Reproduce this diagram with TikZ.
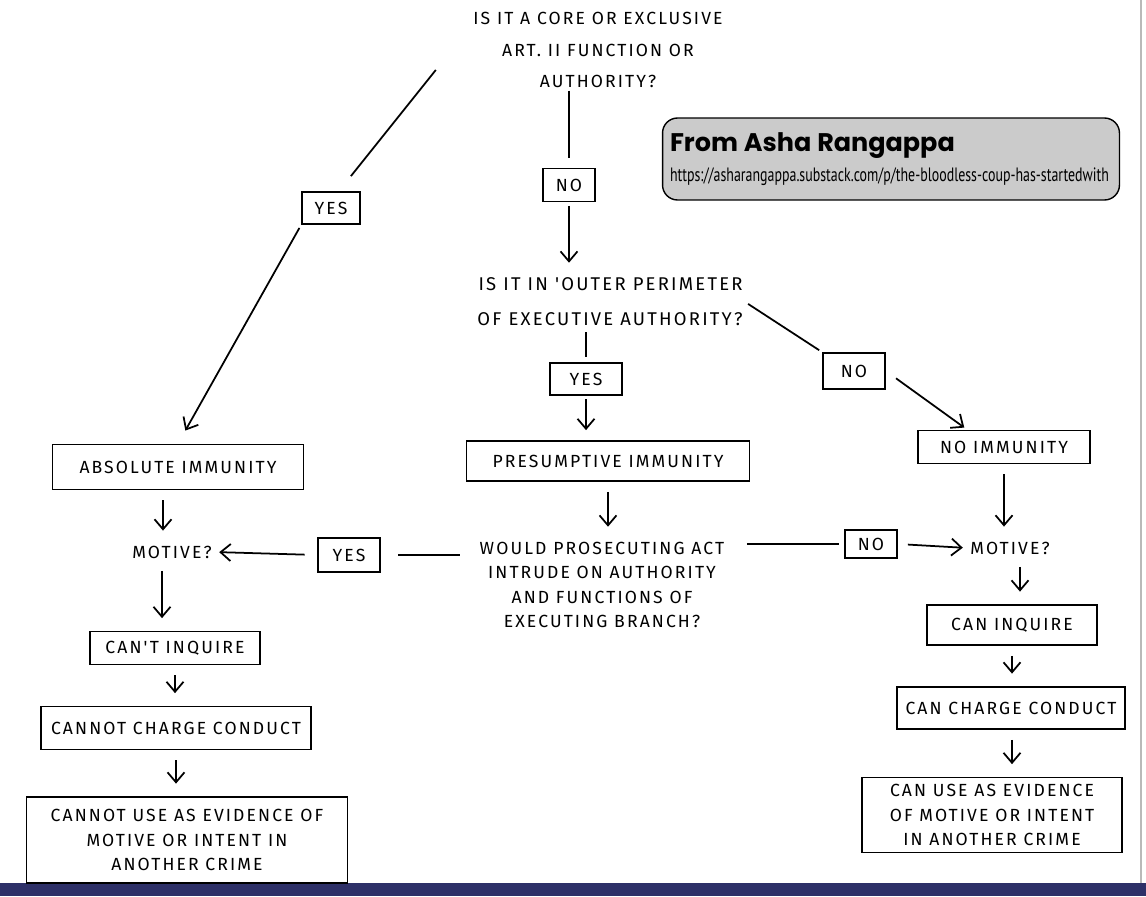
\documentclass[tikz,border=0pt]{standalone}
\usepackage{fontspec}
\usetikzlibrary{arrows.meta}
\newfontfamily\hand[LetterSpace=12]{Fira Sans}
\newfontfamily\titlefont{Poppins}
\newfontfamily\urlfont[FakeStretch=0.72]{PT Sans}
\definecolor{notegray}{HTML}{CBCBCB}
\definecolor{stripblue}{HTML}{2E3068}

\begin{document}
\begin{tikzpicture}[x=0.02cm,y=-0.02cm,line width=1pt,>={Straight Barb[length=2mm,width=3.4mm]},
  txt/.style={font=\hand\fontsize{10}{14}\selectfont,align=center,inner sep=1pt},
  box/.style={txt,draw,inner sep=3pt},
  dn/.style={->,shorten <=0.2cm,shorten >=0.25cm}]
  \useasboundingbox (0,0) rectangle (1146,896);
  % papel
  \fill[stripblue] (0,883) rectangle (1146,896);
  \draw[gray!55,line width=0.8pt] (1141,0) -- (1141,883);
  % preguntas
  \node[txt,font=\hand\fontsize{10}{18}\selectfont] (q1) at (598,50) {IS IT A CORE OR EXCLUSIVE\\ART. II FUNCTION OR\\AUTHORITY?};
  \node[txt,align=right,font=\hand\fontsize{10.5}{20}\selectfont] (q2) at (610,302) {IS IT IN 'OUTER PERIMETER\\OF EXECUTIVE AUTHORITY?};
  \node[txt] (q3) at (602,585) {WOULD PROSECUTING ACT\\INTRUDE ON AUTHORITY\\AND FUNCTIONS OF\\EXECUTING BRANCH?};
  % respuestas
  \node[box,minimum width=1.04cm,minimum height=0.66cm] (no1) at (569,185) {NO};
  \node[box,minimum width=1.16cm,minimum height=0.64cm] (yes1) at (331,208) {YES};
  \node[box,minimum width=1.44cm,minimum height=0.64cm] (yes2) at (586,379) {YES};
  \node[box,minimum width=1.24cm,minimum height=0.72cm] (no2) at (854,371) {NO};
  \node[box,minimum width=1.24cm,minimum height=0.68cm] (yes3) at (349,555) {YES};
  \node[box,minimum width=1.04cm,minimum height=0.56cm] (no3) at (871,544) {NO};
  % resultados
  \node[box,minimum width=5.02cm,minimum height=0.9cm] (absimm) at (178,467) {ABSOLUTE IMMUNITY};
  \node[box,minimum width=5.66cm,minimum height=0.8cm] (presimm) at (608,461) {PRESUMPTIVE IMMUNITY};
  \node[box,minimum width=3.44cm,minimum height=0.66cm] (noimm) at (1004,447) {NO IMMUNITY};
  \node[txt] (motL) at (172,552) {MOTIVE?};
  \node[txt] (motR) at (1010,548) {MOTIVE?};
  \node[box,minimum width=3.4cm,minimum height=0.66cm] (cantinq) at (175,648) {CAN'T INQUIRE};
  \node[box,minimum width=5.4cm,minimum height=0.86cm] (cannotch) at (176,728) {CANNOT CHARGE CONDUCT};
  \node[box,minimum width=6.42cm,minimum height=1.72cm] (cannotuse) at (187,840) {CANNOT USE AS EVIDENCE OF\\MOTIVE OR INTENT IN\\ANOTHER CRIME};
  \node[box,minimum width=3.4cm,minimum height=0.8cm] (caninq) at (1012,625) {CAN INQUIRE};
  \node[box,minimum width=4.56cm,minimum height=0.84cm] (canch) at (1011,708) {CAN CHARGE CONDUCT};
  \node[box,minimum width=5.2cm,minimum height=1.5cm] (canuse) at (992,815) {CAN USE AS EVIDENCE\\OF MOTIVE OR INTENT\\IN ANOTHER CRIME};
  % nota
  \node[draw,fill=notegray,rounded corners=0.3cm,line width=0.8pt,minimum width=9.14cm,minimum height=1.64cm,
        text width=8.84cm,align=left] (src) at (891,159)
    {{\titlefont\bfseries\fontsize{14.5}{16}\selectfont From Asha Rangappa}\\[5pt]
     \mbox{\urlfont\fontsize{11}{12}\selectfont https://asharangappa.substack.com/p/the-bloodless-coup-has-startedwith}};
  % flechas
  \draw ([xshift=-0.7cm,yshift=-0.4cm]q1.west) -- ([xshift=-0.2cm,yshift=0.3cm]yes1.north east);
  \draw[->,shorten <=2pt,shorten >=0.3cm] (yes1.south west) -- (absimm.north);
  \draw[shorten >=0.2cm] (no1 |- q1.south) -- (no1.north);
  \draw[->,shorten <=2pt,shorten >=0.25cm] (no1.south) -- (no1 |- q2.north);
  \draw[shorten <=2pt,shorten >=0.1cm] (yes2 |- q2.south) -- (yes2.north);
  \draw[->,shorten <=2pt,shorten >=0.2cm] (yes2.south) -- (yes2.south |- presimm.north);
  \draw[shorten <=2pt,shorten >=2pt] (q2.east) -- (no2.north west);
  \draw[->,shorten <=0.25cm,shorten >=2pt] (no2.east) -- ([xshift=1cm]noimm.north west);
  \draw[dn] (presimm.south) -- (presimm.south |- q3.north);
  \draw[shorten <=0.35cm,shorten >=0.35cm] (q3.west |- yes3) -- (yes3.east);
  \draw[->,shorten <=0.25cm,shorten >=0.1cm] (yes3.west) -- (motL.east);
  \draw[shorten <=0.4cm,shorten >=0.1cm] (q3.east |- no3) -- (no3.west);
  \draw[->,shorten <=0.2cm,shorten >=0.1cm] (no3.east) -- (motR.west);
  \draw[dn] ([xshift=-0.3cm]absimm.south) -- ([xshift=-0.3cm]absimm.south |- motL.north);
  \draw[dn] ([xshift=-0.2cm]motL.south) -- ([xshift=-0.2cm]motL.south |- cantinq.north);
  \draw[dn] (cantinq.south) -- (cantinq.south |- cannotch.north);
  \draw[dn] (cannotch.south) -- (cannotch.south |- cannotuse.north);
  \draw[dn] (noimm.south) -- (noimm.south |- motR.north);
  \draw[dn] ([xshift=0.2cm]motR.south) -- ([xshift=0.2cm]motR.south |- caninq.north);
  \draw[dn] (caninq.south) -- (caninq.south |- canch.north);
  \draw[dn] ([xshift=0.4cm]canuse.north |- canch.south) -- ([xshift=0.4cm]canuse.north);
\end{tikzpicture}
\end{document}
